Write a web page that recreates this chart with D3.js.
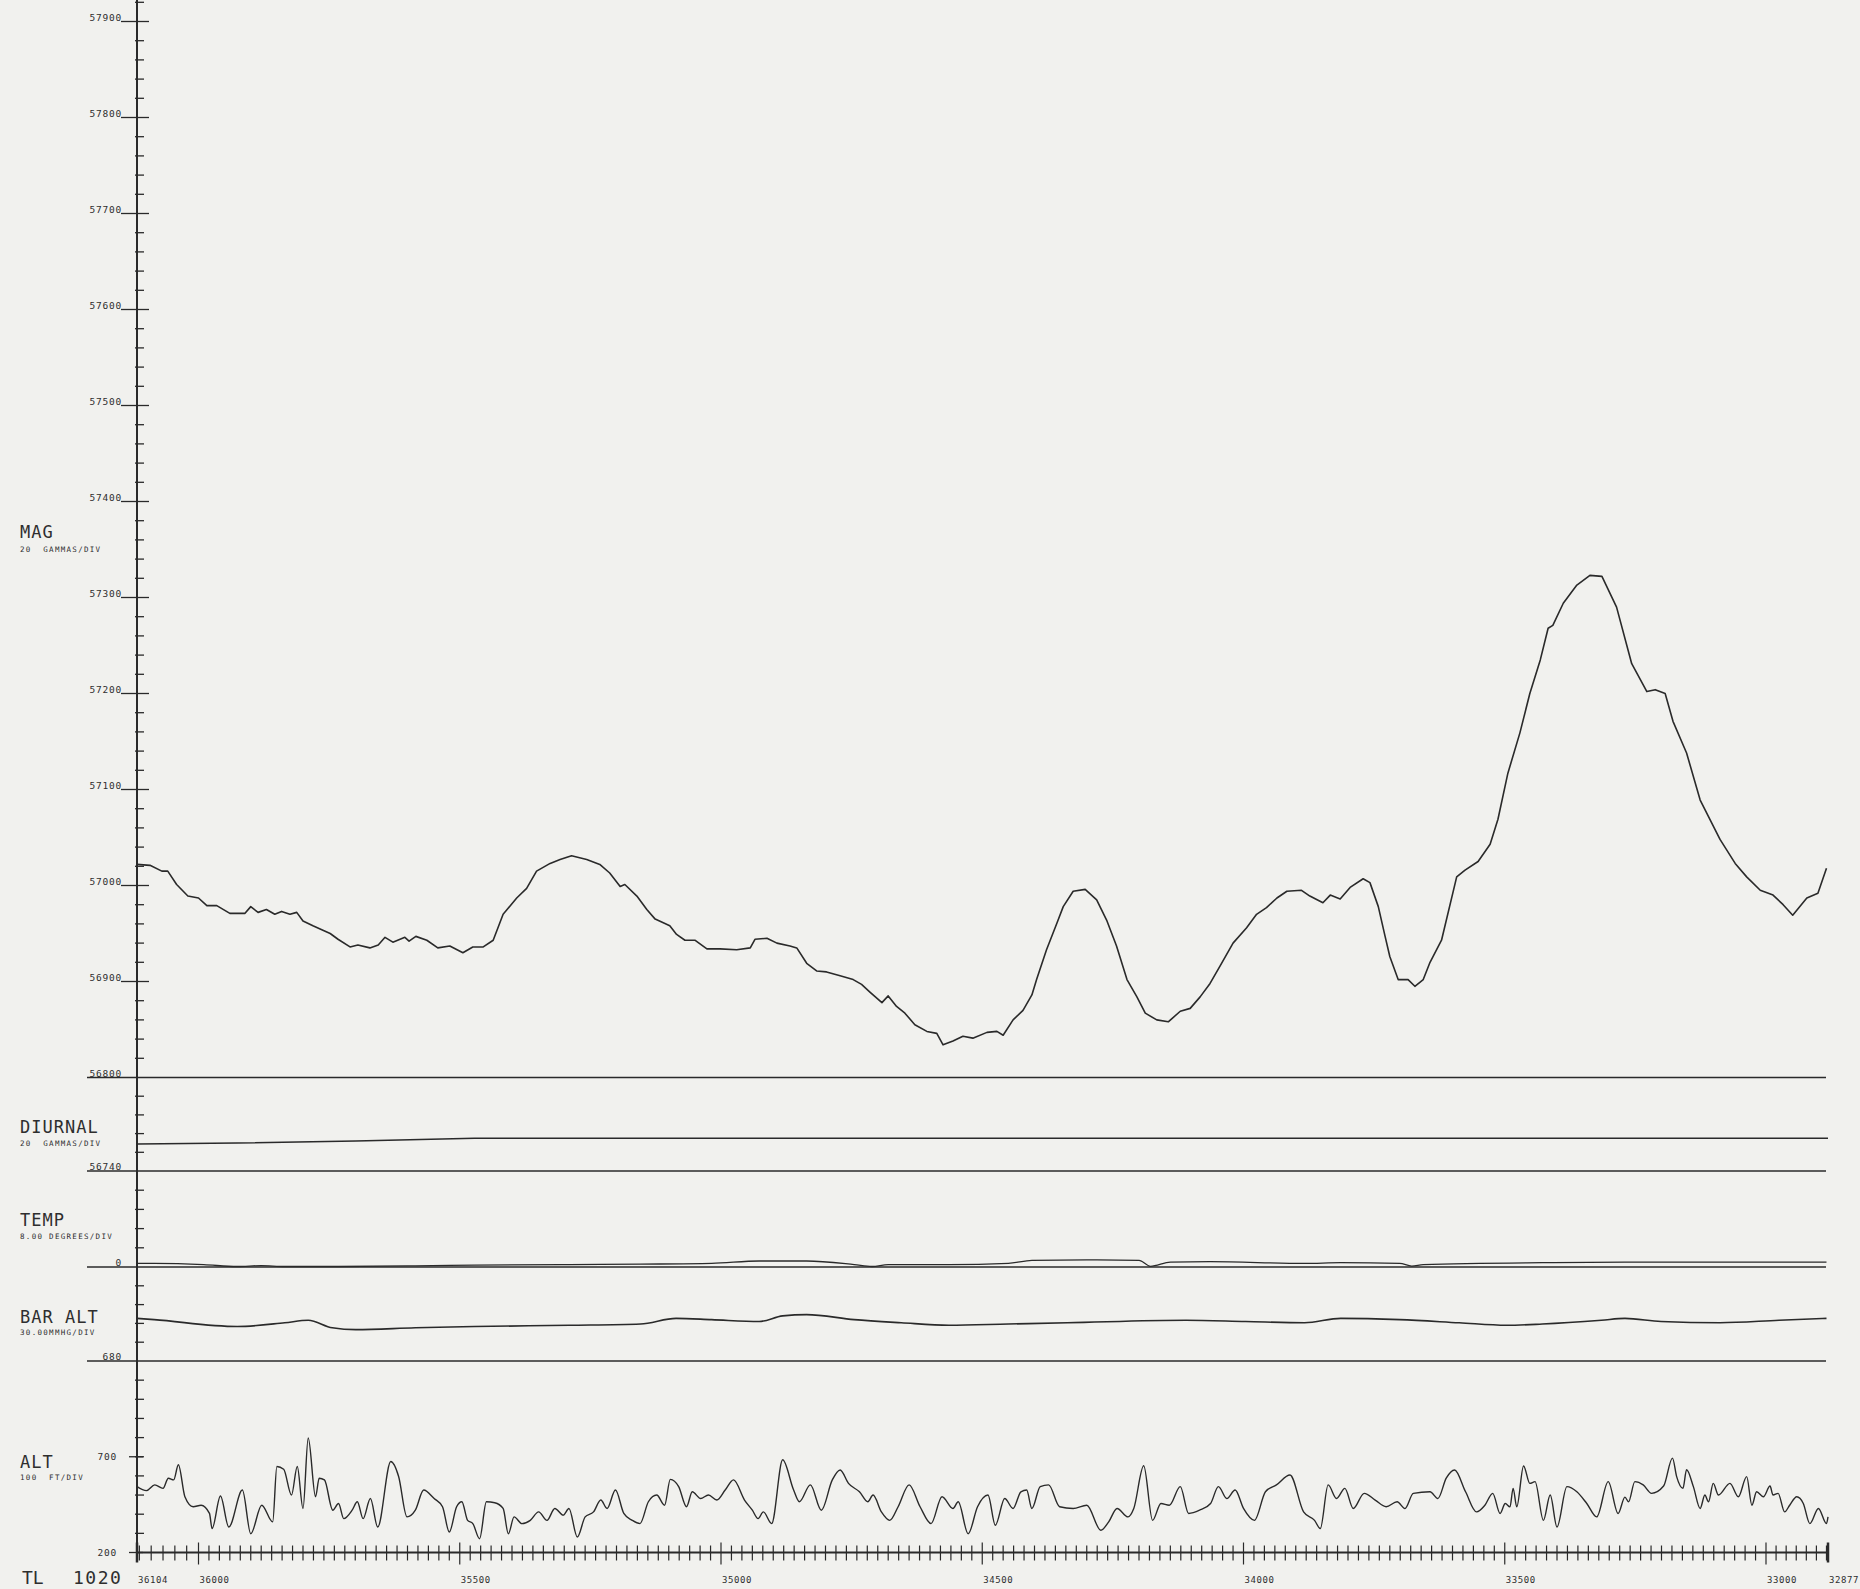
<!DOCTYPE html>
<html><head><meta charset="utf-8">
<script src="https://cdn.jsdelivr.net/npm/d3@7"></script>
<style>
html,body{margin:0;padding:0;background:#f1f1ee;}
svg{display:block;}
text{font-family:"DejaVu Sans Mono",monospace;fill:#2e2e2e;}
</style></head><body>
<svg id="chart" width="1860" height="1589"></svg>
<script>
// ---------------- DATA ----------------
const fidStops = [36104, 36000, 33000, 32877];
const xTickLabels = [36104, 36000, 35500, 35000, 34500, 34000, 33500, 33000, 32877];
const magTickLabels = [57900, 57800, 57700, 57600, 57500, 57400, 57300, 57200, 57100, 57000, 56900];

const magFid = [36104, 36082, 36062, 36052, 36037, 36018, 36000, 35984, 35965, 35940,
  35911, 35900, 35886, 35870, 35854, 35841, 35825, 35812, 35800, 35781,
  35764, 35748, 35733, 35710, 35695, 35672, 35656, 35643, 35628, 35605,
  35597, 35584, 35563, 35542, 35519, 35494, 35475, 35455, 35436, 35417,
  35391, 35372, 35353, 35327, 35308, 35286, 35257, 35232, 35213, 35193,
  35184, 35161, 35142, 35126, 35098, 35085, 35069, 35050, 35027, 35002,
  34970, 34944, 34935, 34912, 34893, 34868, 34855, 34836, 34817, 34798,
  34772, 34747, 34731, 34715, 34692, 34680, 34664, 34648, 34629, 34606,
  34587, 34575, 34556, 34537, 34518, 34491, 34472, 34460, 34441, 34422,
  34405, 34396, 34377, 34357, 34345, 34326, 34303, 34281, 34262, 34243,
  34223, 34204, 34188, 34166, 34144, 34121, 34102, 34083, 34064, 34045,
  34020, 33994, 33975, 33956, 33936, 33917, 33889, 33873, 33848, 33834,
  33815, 33796, 33771, 33758, 33742, 33729, 33720, 33704, 33685, 33672,
  33656, 33643, 33621, 33592, 33576, 33551, 33528, 33513, 33494, 33471,
  33452, 33432, 33417, 33408, 33388, 33362, 33337, 33314, 33286, 33257,
  33228, 33212, 33193, 33178, 33152, 33126, 33088, 33059, 33037, 33011,
  32986, 32966, 32947, 32919, 32897, 32880];
const magGamma = [57022, 57021, 57015, 57015, 57001, 56989, 56987, 56979, 56979, 56971,
  56971, 56978, 56972, 56975, 56970, 56973, 56970, 56972, 56963, 56958,
  56954, 56950, 56944, 56936, 56938, 56935, 56938, 56946, 56941, 56946,
  56942, 56947, 56943, 56935, 56937, 56930, 56936, 56936, 56943, 56970,
  56987, 56997, 57015, 57023, 57027, 57031, 57027, 57022, 57013, 56999,
  57001, 56989, 56975, 56965, 56958, 56949, 56943, 56943, 56934, 56934,
  56933, 56935, 56944, 56945, 56940, 56937, 56935, 56919, 56911, 56910,
  56906, 56902, 56897, 56889, 56878, 56885, 56874, 56867, 56855, 56848,
  56846, 56834, 56838, 56843, 56841, 56847, 56848, 56844, 56860, 56870,
  56886, 56902, 56933, 56961, 56978, 56994, 56996, 56985, 56964, 56937,
  56902, 56884, 56867, 56860, 56858, 56869, 56872, 56884, 56898, 56916,
  56940, 56956, 56970, 56977, 56987, 56994, 56995, 56989, 56982, 56990,
  56986, 56998, 57007, 57003, 56978, 56947, 56926, 56902, 56902, 56895,
  56902, 56920, 56943, 57009, 57016, 57025, 57043, 57069, 57117, 57159,
  57200, 57235, 57268, 57271, 57294, 57313, 57323, 57322, 57290, 57231,
  57202, 57204, 57200, 57171, 57138, 57089, 57048, 57023, 57009, 56995,
  56990, 56980, 56969, 56987, 56992, 57018];

const diurnal = [[36104, 56769], [35926, 56770], [35699, 56772], [35472, 56775], [34500, 56775], [32877, 56775]];

const temp = [[36104, 1.5], [36075, 1.5], [35990, 1.0], [35926, 0.2], [35880, 0.6], [35835, 0.2], [35744, 0.2],
  [35585, 0.5], [35472, 0.8], [35290, 1.0], [35154, 1.2], [35018, 1.5], [34927, 2.5], [34836, 2.5],
  [34745, 1.0], [34711, 0.2], [34680, 1.0], [34564, 1.0], [34450, 1.5], [34405, 2.8], [34300, 3.0],
  [34200, 2.8], [34178, 0.3], [34140, 2.0], [34064, 2.2], [33883, 1.5], [33814, 1.8], [33701, 1.5],
  [33678, 0.4], [33656, 1.0], [33428, 1.8], [33270, 2.0], [33088, 2.0], [32880, 2.0]];

const barAlt = [[36104, 748], [36075, 746], [35926, 735], [35835, 741], [35790, 745], [35744, 733],
  [35699, 730], [35585, 733], [35472, 735], [35290, 737], [35154, 739], [35086, 748], [35018, 746],
  [34927, 743], [34882, 752], [34836, 754], [34745, 746], [34655, 741], [34564, 737], [34450, 739],
  [34337, 741], [34110, 745], [33996, 743], [33883, 741], [33814, 748], [33701, 746], [33587, 741],
  [33497, 737], [33428, 739], [33315, 745], [33270, 748], [33201, 743], [33088, 741], [32974, 745],
  [32880, 748]];

const alt = [[36104, 544], [36088, 523], [36074, 553], [36060, 535], [36051, 588], [36042, 579], [36034, 658],
  [36023, 491], [36009, 439], [35995, 447], [35979, 404], [35974, 325], [35958, 495], [35942, 333],
  [35916, 526], [35900, 298], [35879, 447], [35858, 360], [35850, 649], [35837, 635], [35822, 500],
  [35811, 649], [35800, 430], [35790, 798], [35776, 491], [35769, 588], [35759, 579], [35743, 421],
  [35732, 456], [35722, 377], [35706, 421], [35696, 465], [35685, 377], [35671, 482], [35657, 333],
  [35632, 675], [35617, 597], [35601, 386], [35585, 421], [35569, 526], [35549, 482], [35533, 439],
  [35520, 307], [35506, 439], [35496, 465], [35485, 368], [35475, 351], [35462, 272], [35449, 465],
  [35433, 460], [35417, 430], [35407, 298], [35396, 386], [35381, 351], [35365, 368], [35349, 412],
  [35333, 368], [35318, 430], [35302, 395], [35291, 430], [35275, 281], [35260, 386], [35244, 412],
  [35230, 474], [35218, 430], [35202, 526], [35186, 404], [35170, 368], [35155, 351], [35139, 465],
  [35123, 500], [35108, 447], [35097, 582], [35081, 544], [35066, 439], [35055, 517], [35039, 482],
  [35024, 500], [35008, 474], [34992, 526], [34976, 579], [34955, 474], [34940, 421], [34929, 377],
  [34919, 412], [34903, 351], [34882, 684], [34861, 526], [34850, 465], [34829, 553], [34808, 421],
  [34787, 579], [34772, 631], [34756, 561], [34735, 517], [34719, 465], [34709, 500], [34693, 412],
  [34677, 368], [34661, 439], [34640, 553], [34619, 439], [34598, 351], [34577, 491], [34556, 430],
  [34546, 465], [34527, 298], [34509, 439], [34489, 500], [34475, 342], [34457, 482], [34441, 430],
  [34426, 517], [34415, 526], [34405, 430], [34389, 544], [34373, 553], [34352, 439], [34326, 430],
  [34300, 447], [34273, 316], [34258, 360], [34242, 430], [34221, 386], [34210, 430], [34191, 653],
  [34174, 368], [34158, 456], [34142, 447], [34121, 544], [34105, 404], [34084, 421], [34063, 456],
  [34048, 544], [34032, 482], [34016, 526], [34000, 430], [33979, 368], [33958, 517], [33937, 553],
  [33911, 605], [33885, 412], [33864, 368], [33853, 325], [33838, 553], [33822, 482], [33806, 535],
  [33790, 430], [33769, 509], [33748, 474], [33727, 439], [33706, 465], [33691, 430], [33675, 509],
  [33643, 517], [33628, 482], [33612, 588], [33596, 631], [33575, 517], [33554, 412], [33538, 447],
  [33523, 509], [33509, 404], [33499, 456], [33490, 438], [33484, 535], [33477, 438], [33464, 652],
  [33452, 561], [33442, 570], [33426, 368], [33413, 500], [33400, 333], [33381, 544], [33362, 517],
  [33343, 456], [33324, 386], [33302, 570], [33283, 404], [33270, 489], [33263, 465], [33251, 570],
  [33235, 553], [33219, 509], [33196, 547], [33179, 693], [33171, 596], [33159, 535], [33152, 632],
  [33139, 544], [33126, 430], [33117, 500], [33110, 465], [33101, 561], [33091, 500], [33069, 561],
  [33053, 491], [33037, 596], [33027, 447], [33018, 517], [33005, 491], [32992, 547], [32986, 500],
  [32976, 509], [32963, 412], [32953, 447], [32939, 491], [32926, 456], [32913, 351], [32896, 430],
  [32880, 351], [32877, 386]];

const panelNames = ["MAG", "DIURNAL", "TEMP", "BAR ALT", "ALT"];
const panelUnits = ["20  GAMMAS/DIV", "20  GAMMAS/DIV", "8.00 DEGREES/DIV", "30.00MMHG/DIV", "100  FT/DIV"];
const panelBaseLabels = ["56800", "56740", "0", "680"];
const altTickLabels = [700, 200];
const lineLabel = ["TL", "1020"];

// ---------------- LAYOUT ----------------
const svg = d3.select("#chart");
const AX = 137, XEND = 1828, LINE_L = 87, LINE_R = 1826;
const ink = "#2a2a2a";

const x = d3.scaleLinear().domain(fidStops).range([137, 198.5, 1766, 1828]);
const yMag = d3.scaleLinear().domain([56800, 57900]).range([1077.5, 21.5]);
const yDiu = d3.scaleLinear().domain([56740, 56840]).range([1171, 1077.5]);
const yTemp = d3.scaleLinear().domain([0, 40]).range([1267, 1171]);
const yBar = d3.scaleLinear().domain([680, 830]).range([1361, 1267]);
const yAlt = d3.scaleLinear().domain([200, 1200]).range([1552.5, 1361]);

// vertical axis
svg.append("line").attr("x1", AX).attr("x2", AX).attr("y1", 0).attr("y2", 1553)
  .attr("stroke", ink).attr("stroke-width", 2);

// mag minor ticks
const magTicks = d3.range(56820, 57921, 20).filter(v => v % 100 !== 0);
svg.append("g").selectAll("line").data(magTicks).join("line")
  .attr("x1", AX - 2).attr("x2", AX + 7).attr("y1", d => yMag(d)).attr("y2", d => yMag(d))
  .attr("stroke", ink).attr("stroke-width", 1.3);
// mag major ticks + labels
svg.append("g").selectAll("line").data(magTickLabels).join("line")
  .attr("x1", 121).attr("x2", AX + 12).attr("y1", d => yMag(d)).attr("y2", d => yMag(d))
  .attr("stroke", ink).attr("stroke-width", 1.3);
svg.append("g").selectAll("text").data(magTickLabels).join("text")
  .attr("x", 122).attr("y", d => yMag(d) - 0.5).attr("text-anchor", "end")
  .attr("font-size", 9.5).attr("letter-spacing", 0.8).text(d => d);

// lower panel ticks
function minorTicks(scale, lo, hi, step) {
  const t = d3.range(lo + step, hi + step / 2, step);
  svg.append("g").selectAll("line").data(t).join("line")
    .attr("x1", AX - 2).attr("x2", AX + 7).attr("y1", d => scale(d)).attr("y2", d => scale(d))
    .attr("stroke", ink).attr("stroke-width", 1.3);
}
minorTicks(yDiu, 56740, 56820, 20);
minorTicks(yTemp, 0, 32, 8);
minorTicks(yBar, 680, 800, 30);
minorTicks(yAlt, 200, 1100, 100);

// horizontal panel base lines
const baseYs = [yMag(56800), yDiu(56740), yTemp(0), yBar(680)];
svg.append("g").selectAll("line").data(baseYs).join("line")
  .attr("x1", LINE_L).attr("x2", LINE_R).attr("y1", d => d).attr("y2", d => d)
  .attr("stroke", ink).attr("stroke-width", 1.6);
svg.append("g").selectAll("text").data(panelBaseLabels).join("text")
  .attr("x", 122).attr("y", (d, i) => baseYs[i] - 1).attr("text-anchor", "end")
  .attr("font-size", 9.5).attr("letter-spacing", 0.8).text(d => d);

// ALT labels 700 / 200
svg.append("g").selectAll("line").data(altTickLabels).join("line")
  .attr("x1", 129).attr("x2", AX + 6).attr("y1", d => yAlt(d)).attr("y2", d => yAlt(d))
  .attr("stroke", ink).attr("stroke-width", 1.3);
svg.append("g").selectAll("text").data(altTickLabels).join("text")
  .attr("x", 117).attr("y", d => yAlt(d) + 3).attr("text-anchor", "end")
  .attr("font-size", 9.5).attr("letter-spacing", 0.8).text(d => d);

// x axis (fiducials)
const yAx = yAlt(200);
svg.append("line").attr("x1", AX).attr("x2", XEND).attr("y1", yAx).attr("y2", yAx)
  .attr("stroke", ink).attr("stroke-width", 2);
const fidTicks = d3.range(36100, 32878, -20);
svg.append("g").selectAll("line").data(fidTicks).join("line")
  .attr("x1", d => x(d)).attr("x2", d => x(d))
  .attr("y1", d => d % 500 === 0 ? yAx - 10 : yAx - 7)
  .attr("y2", d => d % 500 === 0 ? yAx + 12 : yAx + 8)
  .attr("stroke", ink).attr("stroke-width", 1.2);
svg.append("g").selectAll("line").data([fidStops[0], fidStops[3]]).join("line")
  .attr("x1", d => x(d)).attr("x2", d => x(d)).attr("y1", yAx - 10).attr("y2", yAx + 10)
  .attr("stroke", ink).attr("stroke-width", 2.5);
svg.append("g").selectAll("text").data(xTickLabels).join("text")
  .attr("x", d => x(d) + 1).attr("y", 1583).attr("font-size", 9)
  .attr("letter-spacing", 0.6).text(d => d);

// panel labels
const nameY = [538, 1132.5, 1226, 1323, 1468];
const unitY = [552, 1146, 1239, 1335, 1480];
svg.append("g").selectAll("text").data(panelNames).join("text")
  .attr("x", 20).attr("y", (d, i) => nameY[i]).attr("font-size", 17)
  .attr("letter-spacing", 1).text(d => d);
svg.append("g").selectAll("text").data(panelUnits).join("text")
  .attr("x", 20).attr("y", (d, i) => unitY[i]).attr("font-size", 7.5)
  .attr("letter-spacing", 1.3).attr("xml:space", "preserve").style("white-space", "pre").text(d => d);
svg.append("text").attr("x", 22).attr("y", 1584).attr("font-size", 18).text(lineLabel[0]);
svg.append("text").attr("x", 73).attr("y", 1584).attr("font-size", 18).attr("letter-spacing", 1.5).text(lineLabel[1]);

// traces
const magData = magFid.map((f, i) => [f, magGamma[i]]);
function trace(data, ys, w, curve) {
  svg.append("path").datum(data)
    .attr("d", d3.line().x(d => x(d[0])).y(d => ys(d[1])).curve(curve || d3.curveLinear))
    .attr("fill", "none").attr("stroke", ink).attr("stroke-width", w).attr("stroke-linejoin", "round");
}
trace(magData, yMag, 1.6);
trace(diurnal, yDiu, 1.5);
trace(temp, yTemp, 1.3, d3.curveMonotoneX);
trace(barAlt, yBar, 1.6, d3.curveMonotoneX);
trace(alt, yAlt, 1.4, d3.curveMonotoneX);
</script>
</body></html>
